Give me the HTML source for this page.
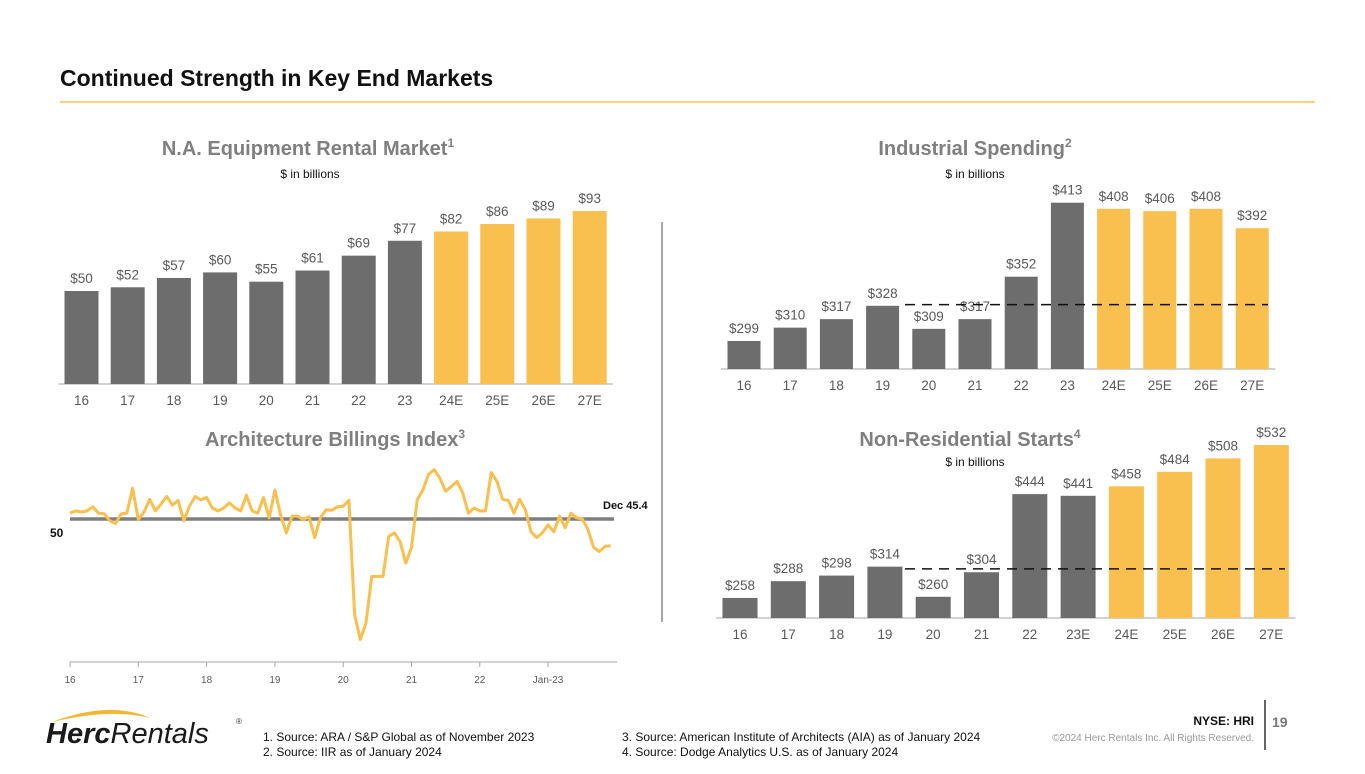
<!DOCTYPE html>
<html><head><meta charset="utf-8">
<style>
body{margin:0;width:1365px;height:769px;background:#fff;font-family:"Liberation Sans",Arial,sans-serif;overflow:hidden;position:relative}
svg text{font-family:"Liberation Sans",Arial,sans-serif}
</style></head>
<body>
<svg id="s" width="1365" height="769" viewBox="0 0 1365 769">
<text x="60" y="86" font-size="23" font-weight="bold" fill="#111">Continued Strength in Key End Markets</text>
<line x1="60" y1="102" x2="1315" y2="102" stroke="#f2b632" stroke-width="1.2"/>
<line x1="662" y1="222" x2="662" y2="622" stroke="#a6a6a6" stroke-width="2"/>

<text x="308" y="155" font-size="20" font-weight="bold" fill="#7f7f7f" text-anchor="middle">N.A. Equipment Rental Market<tspan font-size="12" dy="-8">1</tspan></text>
<text x="310" y="178" font-size="12" fill="#111" text-anchor="middle">$ in billions</text>
<text x="975" y="155" font-size="20" font-weight="bold" fill="#7f7f7f" text-anchor="middle">Industrial Spending<tspan font-size="12" dy="-8">2</tspan></text>
<text x="975" y="178" font-size="12" fill="#111" text-anchor="middle">$ in billions</text>
<text x="335" y="446" font-size="20" font-weight="bold" fill="#7f7f7f" text-anchor="middle">Architecture Billings Index<tspan font-size="12" dy="-8">3</tspan></text>
<text x="970" y="446" font-size="20" font-weight="bold" fill="#7f7f7f" text-anchor="middle">Non-Residential Starts<tspan font-size="12" dy="-8">4</tspan></text>
<text x="975" y="466" font-size="12" fill="#111" text-anchor="middle">$ in billions</text>

<g id="c1"></g><g id="c2"></g><g id="c3"></g><g id="c4"></g>

<g>
<path d="M52 722 Q110 700 150 718 Q110 708 52 722Z" fill="#f2b632"/>
<text x="46" y="743" font-size="29" font-style="italic" fill="#1a1a1a"><tspan font-weight="bold">Herc</tspan><tspan font-weight="normal">Rentals</tspan></text>
<text x="236" y="724" font-size="8" fill="#333">®</text>
</g>
<g font-size="12" fill="#111">
<text x="263" y="741">1.   Source: ARA / S&amp;P Global as of November 2023</text>
<text x="263" y="756">2.   Source: IIR as of January 2024</text>
<text x="622" y="741">3.  Source:  American Institute of Architects (AIA) as of January 2024</text>
<text x="622" y="756">4.  Source:  Dodge Analytics U.S. as of January 2024</text>
</g>
<text x="1254" y="741" font-size="10" fill="#999" text-anchor="end">©2024 Herc Rentals Inc.  All Rights Reserved.</text>
<text x="1254" y="725" font-size="12" font-weight="bold" fill="#111" text-anchor="end">NYSE: HRI</text>
<line x1="1265" y1="700" x2="1265" y2="750" stroke="#333" stroke-width="1.5"/>
<text x="1272" y="727" font-size="14" font-weight="bold" fill="#777">19</text>
</svg>
<script>
const NS="http://www.w3.org/2000/svg";
const GRAY="#6d6d6d",GOLD="#f9bf4f";
const rentalCats=["16","17","18","19","20","21","22","23","24E","25E","26E","27E"];
const rentalVals=[50,52,57,60,55,61,69,77,82,86,89,93];
const rentalEst=[0,0,0,0,0,0,0,0,1,1,1,1];
const indCats=["16","17","18","19","20","21","22","23","24E","25E","26E","27E"];
const indVals=[299,310,317,328,309,317,352,413,408,406,408,392];
const indEst=[0,0,0,0,0,0,0,0,1,1,1,1];
const indAvg=[329];
const nrCats=["16","17","18","19","20","21","22","23E","24E","25E","26E","27E"];
const nrVals=[258,288,298,314,260,304,444,441,458,484,508,532];
const nrEst=[0,0,0,0,0,0,0,0,1,1,1,1];
const nrAvg=[310];
const abiTicks=["16","17","18","19","20","21","22","Jan-23"];
const abiVals=[
51.0,51.4,51.2,51.4,52.1,51.0,50.9,49.7,49.2,50.9,51.0,55.3,
49.9,51.2,53.4,51.4,52.6,53.9,52.4,53.2,49.7,52.2,53.9,53.3,
53.7,51.9,51.4,51.9,52.8,51.9,51.4,54.1,51.4,51.0,53.7,50.2,
55.0,50.7,47.6,50.5,50.5,49.9,50.4,46.8,50.2,51.6,51.5,52.1,
52.2,53.2,33.5,29.2,32.1,40.1,40.1,40.1,47.0,47.6,46.1,42.4,
45.1,53.3,55.0,57.7,58.5,57.0,54.8,55.6,56.5,54.5,51.0,51.9,
51.4,51.4,58.0,56.5,53.4,53.2,51.0,53.4,51.6,47.8,46.8,47.6,
49.0,47.8,50.5,48.5,51.0,50.2,50.0,48.2,45.1,44.4,45.3,45.4];

function mk(parent,tag,attrs,txt){const e=document.createElementNS(NS,tag);for(const k in attrs)e.setAttribute(k,attrs[k]);if(txt!==undefined)e.textContent=txt;parent.appendChild(e);return e;}

function barChart(gid,cats,vals,est,opt,avg){
  const g=document.getElementById(gid);
  const y=v=>opt.base-(v-opt.v0)*opt.k;
  const x=i=>opt.x0+i*opt.step;
  const ax=mk(g,'line',{x1:x(0)-opt.step/2,x2:x(cats.length-1)+opt.step/2,y1:opt.base,y2:opt.base,stroke:'#a6a6a6','stroke-width':1});
  
  
  cats.forEach((c,i)=>{
    const r=mk(g,'rect',{x:x(i)-opt.w/2,y:y(vals[i]),width:opt.w,height:opt.base-y(vals[i]),fill:est[i]?GOLD:GRAY});
    
    
    const t=mk(g,'text',{x:x(i),y:y(vals[i])-8,'font-size':13.5,fill:'#595959','text-anchor':'middle'},'$'+vals[i]);
    
    
    const l=mk(g,'text',{x:x(i),y:opt.base+21,'font-size':13.5,fill:'#595959','text-anchor':'middle'},c);
    
    
  });
  if(avg){
    const d=mk(g,'line',{x1:opt.dx1,x2:opt.dx2,y1:y(avg[0]),y2:y(avg[0]),stroke:'#111','stroke-width':1.5,'stroke-dasharray':'10,7'});
    
    
  }
}
barChart('c1',rentalCats,rentalVals,rentalEst,{base:384,v0:0,k:1.86,x0:81.5,step:46.2,w:34});
barChart('c2',indCats,indVals,indEst,{base:369,v0:275.9,k:1.213,x0:744,step:46.2,w:33},indAvg);
document.getElementById('c2').lastChild.setAttribute('x1',905);
document.getElementById('c2').lastChild.setAttribute('x2',1268);
barChart('c3',nrCats,nrVals,nrEst,{base:618,v0:222,k:0.558,x0:740,step:48.3,w:35},nrAvg);
document.getElementById('c3').lastChild.setAttribute('x1',905);
document.getElementById('c3').lastChild.setAttribute('x2',1285);

// ABI line chart
(function(){
  const g=document.getElementById('c4');
  const xm=i=>70+i*(68.3/12);
  const y=v=>519-(v-50)*5.8;
  const ref=mk(g,'line',{x1:70,x2:614,y1:y(50),y2:y(50),stroke:'#7f7f7f','stroke-width':3.5});
  
  
  const t50=mk(g,'text',{x:50,y:y(50)+18,'font-size':12,'font-weight':'bold',fill:'#111'},'50');
  
  
  const ax=mk(g,'line',{x1:70,x2:617,y1:662,y2:662,stroke:'#a6a6a6','stroke-width':1});
  
  
  abiTicks.forEach((t,i)=>{
    const tx=xm(i*12);
    const tk=mk(g,'line',{x1:tx,x2:tx,y1:662,y2:667,stroke:'#a6a6a6'});
    
    
    const l=mk(g,'text',{x:tx,y:683,'font-size':10,fill:'#595959','text-anchor':'middle'},t);
    
    
  });
  const p=abiVals.map((v,i)=>(i?'L':'M')+xm(i).toFixed(1)+' '+y(v).toFixed(1)).join(' ');
  const path=mk(g,'path',{d:p,fill:'none',stroke:'#f9bf4f','stroke-width':3,'stroke-linejoin':'round'});
  
  
  const last=abiVals[abiVals.length-1];
  const dl=mk(g,'text',{x:603,y:509,'font-size':11,'font-weight':'bold',fill:'#111'},'Dec '+last);
  
  
})();
</script>
</body></html>
